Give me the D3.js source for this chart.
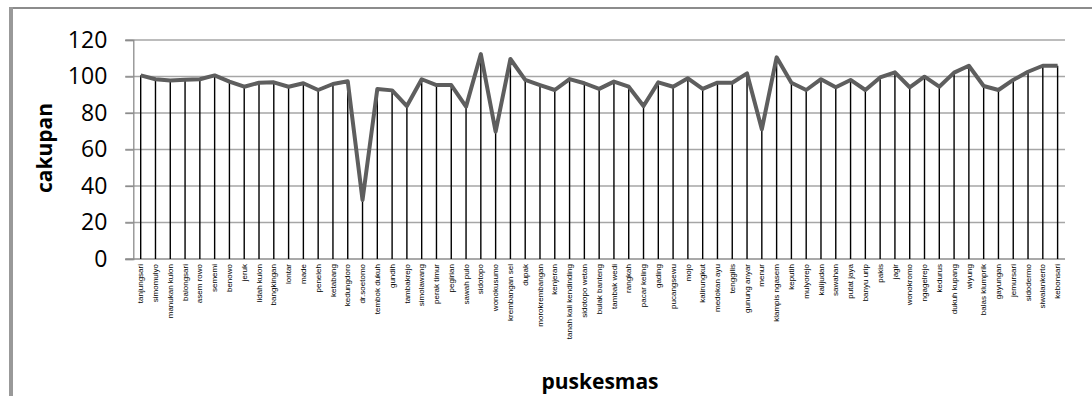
<!DOCTYPE html>
<html>
<head>
<meta charset="utf-8">
<script src="https://cdn.jsdelivr.net/npm/d3@7"></script>
<style>
  body { margin: 0; background: #fff; }
  svg { display: block; }
</style>
</head>
<body>
<svg id="chart" width="1092" height="396"></svg>
<script>
// puskesmas names, in plot order
var puskesmas = ["tanjungsari", "simomulyo", "manukan kulon", "balongsari", "asem rowo", "sememi",
  "benowo", "jeruk", "lidah kulon", "bangkingan", "lontar", "made", "peneleh", "ketabang",
  "kedungdoro", "dr.soetomo", "tembok dukuh", "gundih", "tambakrejo", "simolawang", "perak timur",
  "pegirian", "sawah pulo", "sidotopo", "wonokusumo", "krembangan sel", "dupak", "morokrembangan",
  "kenjeran", "tanah kali kendinding", "sidotopo wetan", "bulak banteng", "tambak wedi", "rangkah",
  "pacar keling", "gading", "pucangsewu", "mojo", "kalirungkut", "medokan ayu", "tenggilis",
  "gunung anyar", "menur", "klampis ngasem", "keputih", "mulyorejo", "kalijudan", "sawahan",
  "putat jaya", "banyu urip", "pakis", "jagir", "wonokromo", "ngagelrejo", "kedurus",
  "dukuh kupang", "wiyung", "balas klumprik", "gayungan", "jemursari", "sidodermo",
  "siwalankerto", "kebonsari"];

var cakupan = [100.6, 98.5, 97.8, 98.2, 98.5, 100.6,
  97.2, 94.4, 96.6, 96.8, 94.4, 96.3, 92.6, 95.9,
  97.4, 32.3, 93.2, 92.4, 83.8, 98.5, 95.3,
  95.3, 83.5, 112.3, 69.8, 109.6, 98.1, 95.3,
  92.6, 98.6, 96.3, 93.2, 97.2, 94.4,
  83.8, 96.8, 94.4, 99.0, 93.2, 96.6, 96.6,
  101.7, 71.1, 110.5, 96.6, 92.6, 98.5, 94.1,
  98.1, 92.6, 99.5, 102.3, 94.1, 99.9, 94.4,
  102.1, 105.9, 94.8, 92.6, 98.1, 102.6,
  105.9, 105.9];

var yTicks = [0, 20, 40, 60, 80, 100, 120];

var svg = d3.select("#chart");

// outer frame (top and left edges show)
svg.append("line").attr("x1", 11).attr("x2", 1092).attr("y1", 8).attr("y2", 8)
  .style("stroke", "#8c8c8c").style("stroke-width", 2);
svg.append("line").attr("x1", 11).attr("x2", 11).attr("y1", 7).attr("y2", 396)
  .style("stroke", "#999").style("stroke-width", 4);

var plotLeft = 133.3, plotRight = 1065, plotTop = 40, plotBottom = 259;

var x = d3.scaleBand().domain(puskesmas).range([plotLeft, plotRight]);
var y = d3.scaleLinear().domain([0, 120]).range([plotBottom, plotTop]);
var cx = function (d) { return x(d) + x.bandwidth() / 2; };

// gridlines
svg.append("g").selectAll("line").data(yTicks.filter(function (d) { return d > 0; }))
  .enter().append("line")
  .attr("x1", plotLeft - 8).attr("x2", plotRight)
  .attr("y1", function (d) { return y(d); }).attr("y2", function (d) { return y(d); })
  .style("stroke", "#a6a6a6").style("stroke-width", 1.3);

var yAxis = svg.append("g").attr("transform", "translate(" + plotLeft + ",0)")
  .call(d3.axisLeft(y).tickValues(yTicks).tickSize(8).tickPadding(18));
yAxis.select(".domain").style("stroke", "#8c8c8c").style("stroke-width", 1.3);
yAxis.selectAll(".tick line").style("stroke", "#8c8c8c").style("stroke-width", 1.3);
yAxis.selectAll("text").style("font-family", "'Open Sans', sans-serif")
  .style("font-size", "23px").style("fill", "#000");

// x axis line
svg.append("line").attr("x1", plotLeft - 8).attr("x2", plotRight).attr("y1", plotBottom).attr("y2", plotBottom)
  .style("stroke", "#8c8c8c").style("stroke-width", 1.3);

// drop lines
svg.append("g").selectAll("line").data(puskesmas).enter().append("line")
  .attr("x1", cx).attr("x2", cx)
  .attr("y1", function (d, i) { return y(cakupan[i]); })
  .attr("y2", plotBottom)
  .style("stroke", "#000").style("stroke-width", 1.4);

// series line
var line = d3.line()
  .x(function (d, i) { return cx(puskesmas[i]); })
  .y(function (d) { return y(d); });
svg.append("path").datum(cakupan).attr("d", line)
  .style("fill", "none").style("stroke", "#5e5e5e").style("stroke-width", 4)
  .style("stroke-linejoin", "round");

// category labels
svg.append("g").selectAll("text").data(puskesmas).enter().append("text")
  .attr("transform", function (d) { return "translate(" + cx(d) + "," + (plotBottom + 5) + ") rotate(-90)"; })
  .attr("dy", "0.33em")
  .style("text-anchor", "end")
  .style("font-family", "'Liberation Sans', sans-serif")
  .style("font-size", "8px")
  .text(function (d) { return d; });

// axis titles
svg.append("text")
  .attr("transform", "translate(52,148) rotate(-90)")
  .style("text-anchor", "middle")
  .style("font-family", "'Open Sans', sans-serif")
  .style("font-weight", "bold").style("font-size", "21px")
  .text("cakupan");

svg.append("text")
  .attr("x", 600).attr("y", 389)
  .style("text-anchor", "middle")
  .style("font-family", "'Open Sans', sans-serif")
  .style("font-weight", "bold").style("font-size", "21px")
  .text("puskesmas");
</script>
</body>
</html>
